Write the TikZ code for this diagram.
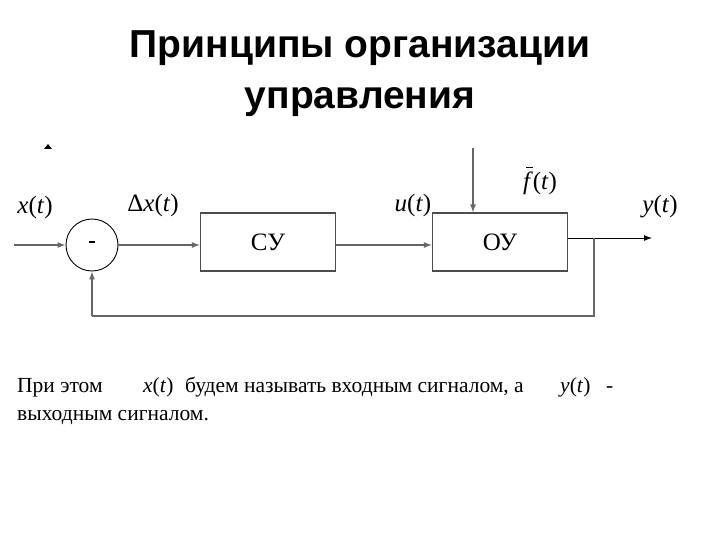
\documentclass[tikz,border=0pt]{standalone}
\usepackage{fontspec}
\setmainfont{Liberation Serif}
\newfontfamily\titlefont{Liberation Sans}
\usetikzlibrary{arrows.meta}
\begin{document}
\begin{tikzpicture}[x=1pt,y=-1pt,
  blk/.style={draw=black!70,line width=1.2pt,minimum width=135pt,minimum height=58pt,inner sep=0pt,font=\fontsize{25}{28}\selectfont},
  sumc/.style={circle,draw,line width=0.9pt,minimum size=52pt,inner sep=0pt},
  conn/.style={draw=black!60,line width=1.3pt},
  arr/.style={conn,-{Latex[length=8pt,width=6pt]}},
  lbl/.style={inner sep=0pt,font=\fontsize{25}{28}\selectfont},
  txt/.style={inner sep=0pt,anchor=base west,font=\fontsize{21.5}{28}\selectfont}]
\useasboundingbox (0,0) rectangle (720,540);
\fill[white] (0,0) rectangle (720,540);
% title
\node[font=\titlefont\bfseries\fontsize{39}{51}\selectfont,align=center,inner sep=0pt] (title) at (360,74)
  {Принципы организации\\управления};
% bullet
\fill (44,149) -- (48,144) -- (52,149) -- cycle;
% blocks
\node[sumc] (sum) at (92,245) {\rule[6pt]{6pt}{2pt}};
\node[blk] (cy) at (268,242) {СУ};
\node[blk] (oy) at (500,242) {ОУ};
\coordinate (in) at (14,245);
\coordinate (dtop) at (473,148);
\coordinate (br) at (594,238);
\coordinate (out) at (652,238);
\coordinate (fb) at (594,316);
\coordinate (fb2) at (92,316);
\draw[arr] (in) -- (sum.west);
\draw[arr] (sum.east) -- (cy.west |- sum.east);
\draw[arr] (cy.east |- 0,245) -- (oy.west |- 0,245);
\draw[arr] (dtop) -- (dtop |- oy.north);
\draw[arr,draw=black,line width=1pt] (oy.east |- br) -- (out);
\draw[conn] (br) -- (fb) -- (fb2);
\draw[arr] (fb2) -- (sum.south);
% labels
\node[lbl] (lx) at (35,207) {\textit{x}(\textit{t})};
\node[lbl] (ldx) at (153,205) {Δ\textit{x}(\textit{t})};
\node[lbl] (lu) at (413,205) {\textit{u}(\textit{t})};
\node[lbl] (lf) at (540,181) {\rlap{\hspace{3pt}\raisebox{21pt}{\rule{7pt}{1pt}}}\textit{f}(\textit{t})};
\node[lbl] (ly) at (660,207) {\textit{y}(\textit{t})};
% text
\node[txt] (t1) at (17,392) {При этом};
\node[txt] (t2) at (143,392) {\textit{x}(\textit{t})};
\node[txt] (t3) at (185,392) {будем называть входным сигналом, а};
\node[txt] (t4) at (560,392) {\textit{y}(\textit{t})};
\node[txt] (t5) at (606,392) {-};
\node[txt] (t6) at (17,420) {выходным сигналом.};
\end{tikzpicture}
\end{document}
